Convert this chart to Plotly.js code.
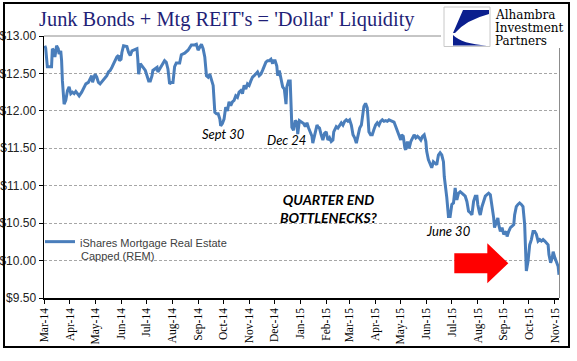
<!DOCTYPE html>
<html><head><meta charset="utf-8">
<script src="https://cdn.plot.ly/plotly-3.0.1.min.js"></script>
<style>html,body{margin:0;padding:0;background:#fff;}#chart{width:577px;height:361px;}</style>
</head><body><div id="chart"></div>
<script>
var seriesName = "iShares Mortgage Real Estate";
var seriesNameLine2 = "Capped (REM)";
var dates = [
"2014-03-02","2014-03-03","2014-03-05","2014-03-07","2014-03-10","2014-03-11","2014-03-13","2014-03-14","2014-03-16","2014-03-18","2014-03-19","2014-03-21","2014-03-22","2014-03-23","2014-03-24","2014-03-25","2014-03-27","2014-03-29","2014-03-31",
"2014-04-02","2014-04-04","2014-04-06","2014-04-08","2014-04-10","2014-04-12","2014-04-15","2014-04-17","2014-04-20","2014-04-23","2014-04-25","2014-04-27","2014-04-28","2014-04-30",
"2014-05-01","2014-05-03","2014-05-05","2014-05-07","2014-05-10","2014-05-13","2014-05-15","2014-05-17","2014-05-19","2014-05-21","2014-05-23","2014-05-25","2014-05-27","2014-05-29","2014-05-30",
"2014-06-01","2014-06-02","2014-06-04","2014-06-06","2014-06-08","2014-06-10","2014-06-12","2014-06-14","2014-06-16","2014-06-18","2014-06-20","2014-06-21","2014-06-22","2014-06-24","2014-06-26","2014-06-28","2014-06-30",
"2014-07-02","2014-07-04","2014-07-06","2014-07-08","2014-07-09","2014-07-11","2014-07-14","2014-07-15","2014-07-17","2014-07-19","2014-07-21","2014-07-23","2014-07-25","2014-07-27","2014-07-29","2014-07-31",
"2014-08-02","2014-08-03","2014-08-04","2014-08-06","2014-08-10","2014-08-12","2014-08-16","2014-08-20","2014-08-24","2014-08-28","2014-08-30",
"2014-09-01","2014-09-03","2014-09-05","2014-09-07","2014-09-09","2014-09-11","2014-09-13","2014-09-15","2014-09-17","2014-09-19","2014-09-21","2014-09-23","2014-09-25","2014-09-27","2014-09-28","2014-09-30",
"2014-10-02","2014-10-04","2014-10-06","2014-10-08","2014-10-10","2014-10-12","2014-10-14","2014-10-16","2014-10-18","2014-10-20","2014-10-22","2014-10-24","2014-10-26","2014-10-28","2014-10-30",
"2014-11-01","2014-11-03","2014-11-05","2014-11-07","2014-11-09","2014-11-11","2014-11-13","2014-11-15","2014-11-17","2014-11-19","2014-11-21","2014-11-23","2014-11-25","2014-11-27","2014-11-29","2014-11-30",
"2014-12-02","2014-12-04","2014-12-05","2014-12-07","2014-12-09","2014-12-11","2014-12-13","2014-12-15","2014-12-16","2014-12-18","2014-12-20","2014-12-21","2014-12-22","2014-12-24","2014-12-26","2014-12-28","2014-12-29","2014-12-31",
"2015-01-03","2015-01-05","2015-01-07","2015-01-09","2015-01-11","2015-01-13","2015-01-15","2015-01-16","2015-01-18","2015-01-21","2015-01-22","2015-01-24","2015-01-26","2015-01-28","2015-01-30",
"2015-02-01","2015-02-03","2015-02-05","2015-02-07","2015-02-09","2015-02-10","2015-02-13","2015-02-15","2015-02-17","2015-02-19","2015-02-21","2015-02-23","2015-02-25","2015-02-27",
"2015-03-01","2015-03-03","2015-03-05","2015-03-07","2015-03-09","2015-03-11","2015-03-13","2015-03-15","2015-03-17","2015-03-18","2015-03-20","2015-03-22","2015-03-23","2015-03-24","2015-03-26","2015-03-28","2015-03-30",
"2015-04-01","2015-04-03","2015-04-05","2015-04-07","2015-04-09","2015-04-11","2015-04-13","2015-04-15","2015-04-17","2015-04-19","2015-04-21","2015-04-23","2015-04-25","2015-04-27","2015-04-29",
"2015-05-01","2015-05-02","2015-05-04","2015-05-06","2015-05-07","2015-05-09","2015-05-10","2015-05-11","2015-05-13","2015-05-15","2015-05-17","2015-05-19","2015-05-21","2015-05-23","2015-05-25","2015-05-27","2015-05-29","2015-05-31",
"2015-06-01","2015-06-03","2015-06-05","2015-06-07","2015-06-09","2015-06-11","2015-06-13","2015-06-15","2015-06-17","2015-06-19","2015-06-21","2015-06-22","2015-06-24","2015-06-25","2015-06-27","2015-06-29",
"2015-07-01","2015-07-03","2015-07-05","2015-07-07","2015-07-09","2015-07-11","2015-07-13","2015-07-15","2015-07-17","2015-07-19","2015-07-21","2015-07-23","2015-07-25","2015-07-27","2015-07-29","2015-07-31",
"2015-08-01","2015-08-03","2015-08-04","2015-08-06","2015-08-08","2015-08-10","2015-08-12","2015-08-14","2015-08-16","2015-08-18","2015-08-20","2015-08-21","2015-08-23","2015-08-25","2015-08-26","2015-08-28","2015-08-30",
"2015-09-01","2015-09-04","2015-09-05","2015-09-07","2015-09-09","2015-09-11","2015-09-13","2015-09-14","2015-09-16","2015-09-18","2015-09-20","2015-09-22","2015-09-24","2015-09-26","2015-09-27","2015-09-28","2015-09-30",
"2015-10-02","2015-10-04","2015-10-06","2015-10-08","2015-10-10","2015-10-12","2015-10-14","2015-10-16","2015-10-18","2015-10-20","2015-10-22","2015-10-24","2015-10-25","2015-10-27","2015-10-29","2015-10-30",
"2015-11-01","2015-11-03","2015-11-05","2015-11-06"
];
var prices = [
12.87,12.84,12.59,12.59,12.59,12.83,12.80,12.72,12.87,12.83,12.76,12.80,12.67,12.40,12.14,12.09,12.14,12.27,12.32,
12.23,12.25,12.23,12.26,12.23,12.20,12.25,12.29,12.36,12.38,12.43,12.47,12.38,12.45,
12.49,12.45,12.38,12.36,12.40,12.45,12.47,12.52,12.54,12.58,12.63,12.69,12.72,12.74,12.67,
12.69,12.78,12.87,12.87,12.86,12.78,12.74,12.80,12.81,12.83,12.83,12.69,12.49,12.63,12.60,12.58,12.54,
12.47,12.40,12.40,12.47,12.54,12.56,12.58,12.52,12.56,12.60,12.65,12.67,12.65,12.56,12.36,12.38,
12.38,12.56,12.59,12.64,12.64,12.75,12.77,12.81,12.88,12.88,12.89,
12.81,12.85,12.89,12.83,12.72,12.47,12.45,12.49,12.40,12.34,11.98,11.96,11.96,11.89,11.80,11.83,
11.89,12.05,12.00,12.12,12.07,12.12,12.14,12.20,12.18,12.25,12.27,12.23,12.34,12.29,12.36,
12.34,12.40,12.45,12.47,12.49,12.52,12.47,12.49,12.54,12.60,12.65,12.67,12.67,12.69,12.63,12.67,
12.67,12.60,12.47,12.54,12.40,12.32,12.29,12.09,12.32,12.40,12.40,12.18,11.78,11.74,11.87,11.85,11.69,11.87,
11.85,11.83,11.79,11.84,11.77,11.70,11.66,11.57,11.68,11.81,11.79,11.77,11.68,11.61,11.70,
11.72,11.61,11.64,11.59,11.61,11.72,11.79,11.77,11.81,11.84,11.81,11.86,11.88,11.86,
11.88,11.81,11.68,11.64,11.57,11.68,11.77,11.81,11.95,12.06,12.10,12.04,11.90,11.72,11.68,11.68,11.75,
11.81,11.84,11.81,11.86,11.88,11.86,11.87,11.86,11.88,11.87,11.86,11.85,11.79,11.72,11.68,
11.61,11.68,11.66,11.50,11.48,11.59,11.55,11.50,11.59,11.64,11.68,11.64,11.66,11.64,11.61,11.66,11.68,11.59,
11.46,11.35,11.28,11.24,11.32,11.30,11.28,11.41,11.44,11.41,11.32,11.12,10.97,10.84,10.59,10.59,
10.75,10.77,10.97,10.81,10.90,10.92,10.90,10.88,10.86,10.79,10.66,10.64,10.61,10.79,10.86,10.86,
10.75,10.64,10.61,10.72,10.81,10.86,10.88,10.90,10.88,10.75,10.57,10.44,10.52,10.57,10.48,10.39,10.44,
10.35,10.39,10.32,10.39,10.44,10.46,10.48,10.61,10.72,10.75,10.77,10.75,10.72,10.48,10.21,9.86,9.99,
10.21,10.28,10.39,10.39,10.35,10.26,10.28,10.26,10.28,10.26,10.24,10.21,10.08,9.97,10.04,10.12,
10.04,9.99,9.92,9.81
];
var titleText = "Junk Bonds + Mtg REIT's = 'Dollar' Liquidity";
var logoLines = ["Alhambra", "Investment", "Partners"];
var notes = [
  {text: "Sept 30", x: "2014-10-01", y: 11.69},
  {text: "Dec 24", x: "2014-12-15", y: 11.61},
  {text: "June 30", x: "2015-06-27", y: 10.40}
];
var bigNote = {text: "QUARTER END<br>BOTTLENECKS?", x: "2015-02-04", y: 10.70};

// layout geometry (pixels)
var W = 577, H = 361, L = 44, R = 559, T = 36, B = 298;
function px(x) { return (x - L) / (R - L); }
function py(y) { return (B - y) / (B - T); }
function path(pts) {
  return pts.map(function (p, i) {
    if (p[0] === 'Q') return 'Q' + px(p[1]) + ',' + py(p[2]) + ' ' + px(p[3]) + ',' + py(p[4]);
    return (i === 0 ? 'M' : 'L') + px(p[0]) + ',' + py(p[1]);
  }).join(' ') + ' Z';
}

var trace = {
  x: dates, y: prices, type: 'scatter', mode: 'lines', name: seriesName,
  line: {color: '#4a7ebb', width: 3}, showlegend: true
};

var shapes = [
  {type: 'rect', xref: 'paper', yref: 'paper', x0: px(4), x1: px(569), y0: py(347), y1: py(3),
   line: {color: '#000', width: 2}, fillcolor: 'rgba(0,0,0,0)', layer: 'above'},
  {type: 'rect', xref: 'paper', yref: 'paper', x0: px(441), x1: px(567.5), y0: py(48), y1: py(4.5),
   line: {width: 0}, fillcolor: '#fff', layer: 'above'},
  {type: 'line', xref: 'paper', yref: 'paper', x0: px(44), x1: px(441), y0: py(36), y1: py(36),
   line: {color: '#8c8c8c', width: 1}, layer: 'above'},
  {type: 'line', xref: 'paper', yref: 'paper', x0: px(559.5), x1: px(559.5), y0: py(48), y1: py(298),
   line: {color: '#8c8c8c', width: 1}, layer: 'above'},
  {type: 'rect', xref: 'paper', yref: 'paper', x0: px(444), x1: px(490), y0: py(46.5), y1: py(7),
   line: {color: '#c8c8c8', width: 1}, fillcolor: '#fff', layer: 'above'},
  {type: 'path', xref: 'paper', yref: 'paper', layer: 'above', line: {width: 0}, fillcolor: '#0b1f8e',
   path: path([[463, 10], [489, 10], [489, 14], ['Q', 466, 20, 455, 33], [453, 33]])},
  {type: 'path', xref: 'paper', yref: 'paper', layer: 'above', line: {width: 0}, fillcolor: '#0b1f8e',
   path: path([[453, 35], ['Q', 462, 44, 487, 45.5], [453, 45.5]])},
  {type: 'path', xref: 'paper', yref: 'paper', layer: 'above', line: {width: 0}, fillcolor: '#ff0000',
   path: path([[454.3, 253.3], [487.3, 253.3], [487.3, 243.3], [508.3, 263.3], [487.3, 283.3], [487.3, 273.3], [454.3, 273.3]])}
];

var annotations = [
  {text: titleText, xref: 'paper', yref: 'paper', x: px(37), y: py(20), xanchor: 'left', yanchor: 'middle',
   showarrow: false, font: {family: 'Liberation Serif, Times New Roman, serif', size: 20.4, color: '#1f1f77'}},
  {text: seriesNameLine2, xref: 'paper', yref: 'paper', x: px(79), y: py(256), xanchor: 'left', yanchor: 'middle',
   showarrow: false, font: {family: 'Liberation Sans, Arial, sans-serif', size: 11, color: '#404040'}}
];
var logoY = [15, 28, 41];
logoLines.forEach(function (t, i) {
  annotations.push({text: t, xref: 'paper', yref: 'paper', x: px(493), y: py(logoY[i]), xanchor: 'left', yanchor: 'middle',
    showarrow: false, font: {family: 'DejaVu Serif, serif', size: 12, color: '#000'}});
});
notes.forEach(function (n) {
  annotations.push({text: '<i>' + n.text + '</i>', x: n.x, y: n.y, xref: 'x', yref: 'y', showarrow: false,
    xanchor: 'center', yanchor: 'middle', font: {family: 'Lato, Open Sans, sans-serif', size: 13, color: '#000'}});
});
annotations.push({text: '<b><i>' + bigNote.text + '</i></b>', x: bigNote.x, y: bigNote.y, xref: 'x', yref: 'y',
  showarrow: false, xanchor: 'center', yanchor: 'middle', align: 'center',
  font: {family: 'Lato, Open Sans, sans-serif', size: 14, color: '#000'}});

var layout = {
  width: W, height: H,
  margin: {l: L, r: W - R, t: T, b: H - B, pad: 0},
  paper_bgcolor: '#fff', plot_bgcolor: '#fff',
  showlegend: true,
  legend: {x: px(40), y: py(228), xanchor: 'left', yanchor: 'top', bgcolor: 'rgba(0,0,0,0)',
    valign: 'top', itemwidth: 30,
    font: {family: 'Liberation Sans, Arial, sans-serif', size: 11, color: '#404040'}},
  xaxis: {
    type: 'date', range: ['2014-03-01', '2015-11-06'],
    tick0: '2014-03-01', dtick: 'M1', tickformat: '%b-%y', tickangle: -90,
    ticks: 'outside', ticklen: 4, tickcolor: '#000', tickwidth: 1,
    showline: true, linecolor: '#000', linewidth: 1.5, showgrid: false, zeroline: false,
    tickfont: {family: 'Liberation Serif, Times New Roman, serif', size: 11.5, color: '#000'}
  },
  yaxis: {
    range: [9.5, 13], dtick: 0.5, tick0: 9.5, tickprefix: '$', tickformat: '.2f',
    ticks: 'outside', ticklen: 4, tickcolor: '#000', tickwidth: 1,
    showline: true, linecolor: '#000', linewidth: 1.5,
    showgrid: true, gridcolor: '#a6a6a6', gridwidth: 1, griddash: '3px,2px', zeroline: false,
    tickfont: {family: 'Liberation Sans Narrow, Arial Narrow, Liberation Sans, sans-serif', size: 12, color: '#222'}
  },
  shapes: shapes,
  annotations: annotations
};

Plotly.newPlot('chart', [trace], layout, {displayModeBar: false, staticPlot: true});
</script>
</body></html>
